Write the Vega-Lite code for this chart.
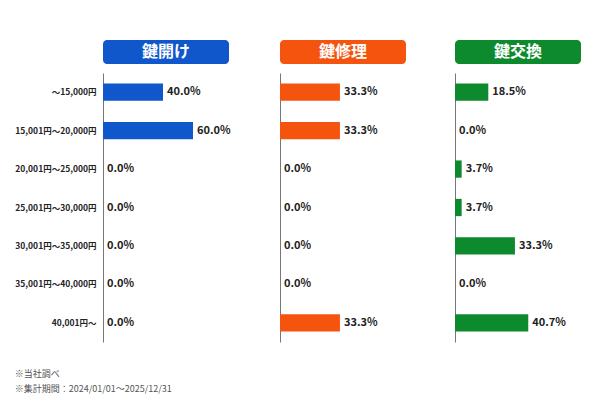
{
  "$schema": "https://vega.github.io/schema/vega-lite/v6.json",
  "padding": {"left": 14, "top": 40, "right": 5, "bottom": 5},
  "background": "white",
  "config": {
    "view": {"stroke": null},
    "font": "Noto Sans CJK JP",
    "concat": {"spacing": 49}
  },
  "title": {
    "text": ["※当社調べ", "※集計期間：2024/01/01～2025/12/31"],
    "orient": "bottom",
    "anchor": "start",
    "fontSize": 9,
    "fontWeight": "normal",
    "color": "#555555",
    "lineHeight": 15,
    "offset": 28
  },
  "datasets": {
    "rows": [
      {"cat": "鍵開け", "range": "～15,000円", "share": 0.4},
      {"cat": "鍵開け", "range": "15,001円～20,000円", "share": 0.6},
      {"cat": "鍵開け", "range": "20,001円～25,000円", "share": 0},
      {"cat": "鍵開け", "range": "25,001円～30,000円", "share": 0},
      {"cat": "鍵開け", "range": "30,001円～35,000円", "share": 0},
      {"cat": "鍵開け", "range": "35,001円～40,000円", "share": 0},
      {"cat": "鍵開け", "range": "40,001円～", "share": 0},
      {"cat": "鍵修理", "range": "～15,000円", "share": 0.333},
      {"cat": "鍵修理", "range": "15,001円～20,000円", "share": 0.333},
      {"cat": "鍵修理", "range": "20,001円～25,000円", "share": 0},
      {"cat": "鍵修理", "range": "25,001円～30,000円", "share": 0},
      {"cat": "鍵修理", "range": "30,001円～35,000円", "share": 0},
      {"cat": "鍵修理", "range": "35,001円～40,000円", "share": 0},
      {"cat": "鍵修理", "range": "40,001円～", "share": 0.333},
      {"cat": "鍵交換", "range": "～15,000円", "share": 0.185},
      {"cat": "鍵交換", "range": "15,001円～20,000円", "share": 0},
      {"cat": "鍵交換", "range": "20,001円～25,000円", "share": 0.037},
      {"cat": "鍵交換", "range": "25,001円～30,000円", "share": 0.037},
      {"cat": "鍵交換", "range": "30,001円～35,000円", "share": 0.333},
      {"cat": "鍵交換", "range": "35,001円～40,000円", "share": 0},
      {"cat": "鍵交換", "range": "40,001円～", "share": 0.407}
    ]
  },
  "hconcat": [
    {
      "spacing": 9,
      "vconcat": [
        {
          "width": 126,
          "height": 24,
          "data": {"values": [{"label": "鍵開け"}]},
          "layer": [
            {"mark": {"type": "rect", "color": "#1157CC", "cornerRadius": 4}, "encoding": {}},
            {"mark": {"type": "text", "color": "white", "fontSize": 16, "fontWeight": "bold", "align": "center", "baseline": "middle"},
             "encoding": {"text": {"field": "label"}}}
          ]
        },
        {
          "width": 126,
          "height": 269,
          "data": {"name": "rows"},
          "transform": [{"filter": "datum.cat === '鍵開け'"}],
          "encoding": {
            "y": {"field": "range", "type": "nominal",
                  "sort": ["～15,000円", "15,001円～20,000円", "20,001円～25,000円", "25,001円～30,000円", "30,001円～35,000円", "35,001円～40,000円", "40,001円～"],
                  "scale": {"paddingInner": 0.55, "paddingOuter": 0.275},
                  "axis": {"title": null, "ticks": false, "domainColor": "#777777", "labelFontSize": 8.5, "labelColor": "#222222", "labelFontWeight": "bold", "labelPadding": 7}},
            "x": {"field": "share", "type": "quantitative", "scale": {"domain": [0, 0.84]}, "axis": null}
          },
          "layer": [
            {"mark": {"type": "bar", "color": "#1157CC"}},
            {"mark": {"type": "text", "align": "left", "baseline": "middle", "dx": 4, "fontSize": 11, "fontWeight": "bold", "color": "#222222"},
             "encoding": {"text": {"field": "share", "type": "quantitative", "format": ".1%"}}}
          ]
        }
      ]
    },
    {
      "spacing": 9,
      "vconcat": [
        {
          "width": 126,
          "height": 24,
          "data": {"values": [{"label": "鍵修理"}]},
          "layer": [
            {"mark": {"type": "rect", "color": "#F5540F", "cornerRadius": 4}, "encoding": {}},
            {"mark": {"type": "text", "color": "white", "fontSize": 16, "fontWeight": "bold", "align": "center", "baseline": "middle"},
             "encoding": {"text": {"field": "label"}}}
          ]
        },
        {
          "width": 126,
          "height": 269,
          "data": {"name": "rows"},
          "transform": [{"filter": "datum.cat === '鍵修理'"}],
          "encoding": {
            "y": {"field": "range", "type": "nominal",
                  "sort": ["～15,000円", "15,001円～20,000円", "20,001円～25,000円", "25,001円～30,000円", "30,001円～35,000円", "35,001円～40,000円", "40,001円～"],
                  "scale": {"paddingInner": 0.55, "paddingOuter": 0.275},
                  "axis": {"title": null, "ticks": false, "labels": false, "domainColor": "#777777"}},
            "x": {"field": "share", "type": "quantitative", "scale": {"domain": [0, 0.7]}, "axis": null}
          },
          "layer": [
            {"mark": {"type": "bar", "color": "#F5540F"}},
            {"mark": {"type": "text", "align": "left", "baseline": "middle", "dx": 4, "fontSize": 11, "fontWeight": "bold", "color": "#222222"},
             "encoding": {"text": {"field": "share", "type": "quantitative", "format": ".1%"}}}
          ]
        }
      ]
    },
    {
      "spacing": 9,
      "vconcat": [
        {
          "width": 126,
          "height": 24,
          "data": {"values": [{"label": "鍵交換"}]},
          "layer": [
            {"mark": {"type": "rect", "color": "#0E8A2E", "cornerRadius": 4}, "encoding": {}},
            {"mark": {"type": "text", "color": "white", "fontSize": 16, "fontWeight": "bold", "align": "center", "baseline": "middle"},
             "encoding": {"text": {"field": "label"}}}
          ]
        },
        {
          "width": 126,
          "height": 269,
          "data": {"name": "rows"},
          "transform": [{"filter": "datum.cat === '鍵交換'"}],
          "encoding": {
            "y": {"field": "range", "type": "nominal",
                  "sort": ["～15,000円", "15,001円～20,000円", "20,001円～25,000円", "25,001円～30,000円", "30,001円～35,000円", "35,001円～40,000円", "40,001円～"],
                  "scale": {"paddingInner": 0.55, "paddingOuter": 0.275},
                  "axis": {"title": null, "ticks": false, "labels": false, "domainColor": "#777777"}},
            "x": {"field": "share", "type": "quantitative", "scale": {"domain": [0, 0.7]}, "axis": null}
          },
          "layer": [
            {"mark": {"type": "bar", "color": "#0E8A2E"}},
            {"mark": {"type": "text", "align": "left", "baseline": "middle", "dx": 4, "fontSize": 11, "fontWeight": "bold", "color": "#222222"},
             "encoding": {"text": {"field": "share", "type": "quantitative", "format": ".1%"}}}
          ]
        }
      ]
    }
  ]
}
